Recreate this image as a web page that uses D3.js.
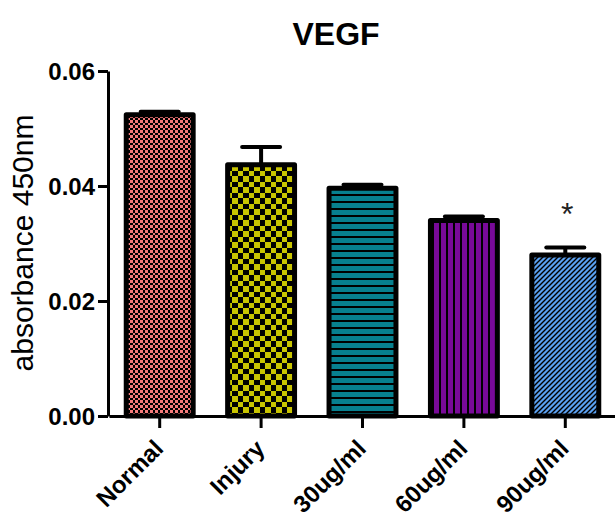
<!DOCTYPE html>
<html><head><meta charset="utf-8">
<script src="https://cdn.jsdelivr.net/npm/d3@7"></script>
<style>html,body{margin:0;padding:0;background:#fff;}svg{display:block;}</style>
</head><body>
<script>
const categories = ["Normal", "Injury", "30ug/ml", "60ug/ml", "90ug/ml"];
const means = [0.0524, 0.0437, 0.0396, 0.0340, 0.0280];
const sems = [0.0005, 0.0031, 0.0006, 0.0007, 0.0013];
const significance = ["", "", "", "", "*"];
const yTicks = [0.00, 0.02, 0.04, 0.06];
const fills = ["url(#pNormal)", "url(#pInjury)", "url(#p30)", "url(#p60)", "url(#p90)"];

const W = 615, H = 519;
const svg = d3.select("body").append("svg").attr("width", W).attr("height", H);
const font = "'Liberation Sans', Arial, sans-serif";

// patterns
const defs = svg.append("defs");
// Normal: fine checker
{
  const p = defs.append("pattern").attr("id", "pNormal").attr("patternUnits", "userSpaceOnUse")
    .attr("width", 10).attr("height", 10);
  p.append("rect").attr("width", 10).attr("height", 10).attr("fill", "#000");
  const edges = [[0,3],[3,5],[5,8],[8,10]];
  edges.forEach((cx, i) => edges.forEach((cy, j) => {
    if ((i + j) % 2 === 0) p.append("rect").attr("x", cx[0]).attr("y", cy[0])
      .attr("width", cx[1]-cx[0]).attr("height", cy[1]-cy[0]).attr("fill", "#f47a7a");
  }));
}
// Injury: coarse checker
{
  const p = defs.append("pattern").attr("id", "pInjury").attr("patternUnits", "userSpaceOnUse")
    .attr("width", 11).attr("height", 11).attr("x", 1).attr("y", 0);
  p.append("rect").attr("width", 11).attr("height", 11).attr("fill", "#000");
  p.append("rect").attr("x", 0).attr("y", 0).attr("width", 6).attr("height", 6).attr("fill", "#c8c400");
  p.append("rect").attr("x", 6).attr("y", 6).attr("width", 5).attr("height", 5).attr("fill", "#c8c400");
}
// 30ug: horizontal stripes
{
  const p = defs.append("pattern").attr("id", "p30").attr("patternUnits", "userSpaceOnUse")
    .attr("width", 7).attr("height", 7);
  p.append("rect").attr("width", 7).attr("height", 7).attr("fill", "#07808f");
  p.append("rect").attr("y", 5).attr("width", 7).attr("height", 2).attr("fill", "#000");
}
// 60ug: vertical stripes
{
  const p = defs.append("pattern").attr("id", "p60").attr("patternUnits", "userSpaceOnUse")
    .attr("width", 7).attr("height", 7);
  p.append("rect").attr("width", 7).attr("height", 7).attr("fill", "#780a98");
  p.append("rect").attr("x", 5).attr("width", 2).attr("height", 7).attr("fill", "#000");
}
// 90ug: diagonal
{
  const p = defs.append("pattern").attr("id", "p90").attr("patternUnits", "userSpaceOnUse")
    .attr("width", 5).attr("height", 5);
  p.append("rect").attr("width", 5).attr("height", 5).attr("fill", "#5aa0f0");
  p.append("path").attr("d", "M0,5L5,0M-1,1L1,-1M4,6L6,4").attr("stroke", "#000").attr("stroke-width", 1.4);
}

const x = d3.scaleBand().domain(categories).range([109, 616]).paddingInner(0.34).paddingOuter(0.17);
const y = d3.scaleLinear().domain([0, 0.06]).range([416, 71]);

// bars
svg.append("g").selectAll("rect").data(categories).join("rect")
  .attr("x", d => x(d)).attr("width", x.bandwidth())
  .attr("y", (d, i) => y(means[i])).attr("height", (d, i) => y(0) - y(means[i]))
  .attr("fill", (d, i) => fills[i]).attr("stroke", "#000").attr("stroke-width", 5)
  .attr("stroke-linejoin", "round");

// error bars
const eb = svg.append("g").attr("stroke", "#000").attr("stroke-width", 4);
categories.forEach((c, i) => {
  const cx = x(c) + x.bandwidth() / 2;
  eb.append("line").attr("x1", cx).attr("x2", cx).attr("y1", y(means[i])).attr("y2", y(means[i] + sems[i]));
  eb.append("line").attr("x1", cx - 19).attr("x2", cx + 19).attr("y1", y(means[i] + sems[i])).attr("y2", y(means[i] + sems[i]))
    .attr("stroke-linecap", "round");
});

// significance
svg.append("g").selectAll("text").data(categories).join("text")
  .attr("x", d => x(d) + x.bandwidth() / 2 + 2)
  .attr("y", (d, i) => y(means[i] + sems[i]) - 23)
  .attr("text-anchor", "middle").attr("font-family", font).attr("font-size", 32).attr("fill", "#222")
  .text((d, i) => significance[i]);

// y axis
const ya = svg.append("g").attr("transform", "translate(108,0)")
  .call(d3.axisLeft(y).tickValues(yTicks).tickFormat(d3.format(".2f")).tickSize(10).tickSizeOuter(0).tickPadding(3));
ya.select(".domain").attr("stroke", "#000").attr("stroke-width", 3);
ya.selectAll(".tick line").attr("stroke", "#000").attr("stroke-width", 3);
ya.selectAll(".tick text").attr("font-family", font).attr("font-size", 24).attr("font-weight", "bold")
  .attr("fill", "#000").attr("dy", "0.36em");

// x axis
const xa = svg.append("g").attr("transform", "translate(0,416)")
  .call(d3.axisBottom(x).tickSize(12).tickSizeOuter(0).tickFormat(""));
xa.select(".domain").attr("stroke", "#000").attr("stroke-width", 3);
xa.selectAll(".tick line").attr("stroke", "#000").attr("stroke-width", 3);

svg.append("g").selectAll("text").data(categories).join("text")
  .attr("transform", d => `translate(${x(d) + x.bandwidth() / 2 + 5},450) rotate(-45)`)
  .attr("text-anchor", "end").attr("font-family", font).attr("font-size", 24).attr("font-weight", "bold")
  .attr("fill", "#000").text(d => d);

// y label
svg.append("text").attr("transform", "translate(33,243) rotate(-90)")
  .attr("text-anchor", "middle").attr("font-family", font).attr("font-size", 30).attr("fill", "#000")
  .text("absorbance 450nm");

// title
svg.append("text").attr("x", 336).attr("y", 45).attr("text-anchor", "middle")
  .attr("font-family", font).attr("font-size", 32).attr("font-weight", "bold").attr("fill", "#000")
  .text("VEGF");
</script>
</body></html>
